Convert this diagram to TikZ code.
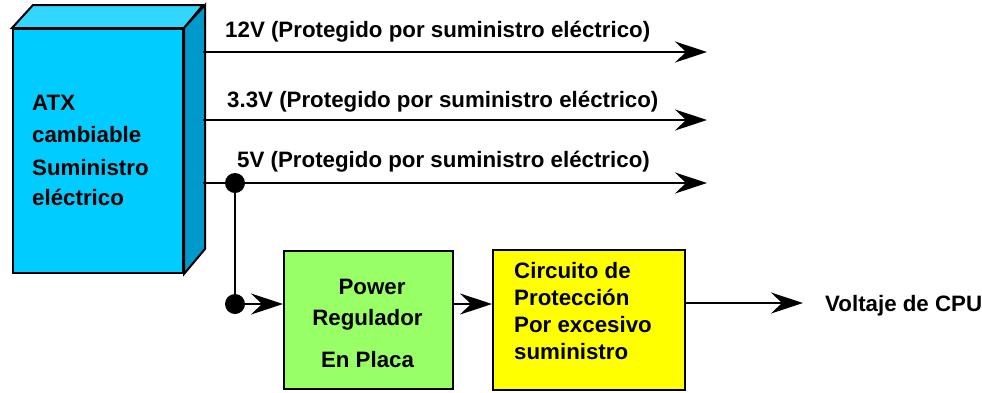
\documentclass[tikz,border=0pt]{standalone}
\usepackage{fontspec}
\setmainfont{Liberation Sans}
\usetikzlibrary{arrows.meta}
\definecolor{cfront}{HTML}{00CCFF}
\definecolor{ctop}{HTML}{33D6FF}
\definecolor{cside}{HTML}{0099CC}
\definecolor{cgreen}{HTML}{99FF66}
\definecolor{cyellow}{HTML}{FFFF00}
\begin{document}
\begin{tikzpicture}[x=1pt,y=-1pt,
  txt/.style={font=\fontsize{22.3}{27}\selectfont\bfseries, inner sep=0pt, anchor=base west},
  ctxt/.style={txt, anchor=base},
  wire/.style={line width=2.5pt},
  arr/.style={wire, -{Stealth[length=32pt,width=21pt,inset=11pt]}},
  dot/.style={circle, fill=black, minimum size=20pt, inner sep=0pt},
  face/.style={draw=black, line width=2pt, line join=miter},
  blk/.style={draw=black, line width=2pt, inner sep=0pt, anchor=north west}]
\useasboundingbox (0,0) rectangle (982,392);

% ATX box
\node[blk, fill=cfront, minimum width=170pt, minimum height=244pt] (atx) at (12,28) {};
\draw[face, fill=ctop] (atx.north west) -- ++(21,-23) -- ++(170,0) -- (atx.north east) -- cycle;
\draw[face, fill=cside] (atx.north east) -- ++(21,-23) -- ++(0,244) -- (atx.south east) -- cycle;

\node[txt] (atx1) at (32,110) {ATX};
\node[txt] (atx2) at (32,142) {cambiable};
\node[txt] (atx3) at (32,175) {Suministro};
\node[txt] (atx4) at (32,205) {eléctrico};

% outputs
\coordinate (s12) at (203,52);
\coordinate (s33) at (203,120);
\coordinate (s5) at (203,183);
\coordinate (o12) at (707,52);
\coordinate (o33) at (707,120);
\coordinate (o5) at (707,183);
\draw[arr] (s12) -- (o12);
\draw[arr] (s33) -- (o33);
\draw[arr] (s5) -- (o5);

\node[txt] (l12) at (225,37) {12V (Protegido por suministro eléctrico)};
\node[txt] (l33) at (227,107) {3.3V (Protegido por suministro eléctrico)};
\node[txt] (l5) at (237,167) {5V (Protegido por suministro eléctrico)};

% blocks
\node[blk, fill=cgreen, minimum width=169pt, minimum height=138pt] (reg) at (283,250) {};
\node[blk, fill=cyellow, minimum width=192pt, minimum height=140pt] (prot) at (492,249) {};

\node[ctxt] (r1) at (372,294) {Power};
\node[ctxt] (r2) at (367.5,325) {Regulador};
\node[ctxt] (r3) at (367.5,367) {En Placa};

\node[txt] (p1) at (514,278) {Circuito de};
\node[txt] (p2) at (514,305) {Protección};
\node[txt] (p3) at (514,332) {Por excesivo};
\node[txt] (p4) at (514,359) {suministro};

% junctions
\node[dot] (j1) at (235,183) {};
\node[dot] (j2) at (235,304) {};
\draw[wire] (j1.center) -- (j2.center);
\draw[arr] (j2.center) -- (j2.center -| reg.west);
\draw[arr] (reg.east |- j2) -- (prot.west |- j2);

\coordinate (cpu) at (803,303);
\draw[arr] (prot.east |- cpu) -- (cpu);
\node[txt] (cpul) at (825,311) {Voltaje de CPU};
\end{tikzpicture}
\end{document}
